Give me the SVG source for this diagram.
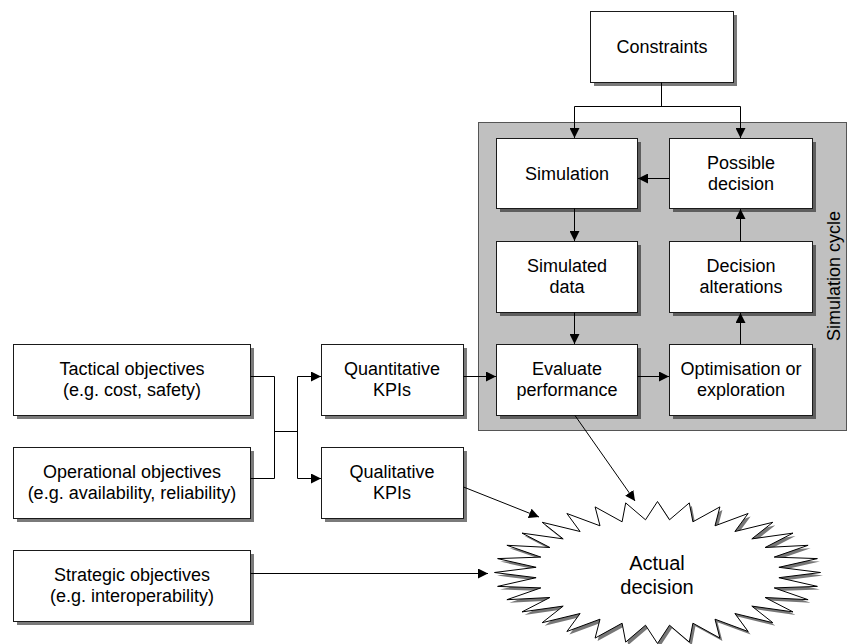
<svg xmlns="http://www.w3.org/2000/svg" width="849" height="644" viewBox="0 0 849 644">
<defs>
<marker id="arr" viewBox="0 0 10 10" refX="10" refY="5" markerWidth="10" markerHeight="10" markerUnits="userSpaceOnUse" orient="auto">
<path d="M0,0 L10,5 L0,10 Z" fill="#000"/>
</marker>
</defs>
<style>
.box{fill:#fff;stroke:#1a1a1a;stroke-width:1}
.sh{fill:#7a7a7a}
.shp{fill:#5e5e5e}
.t{font-family:"Liberation Sans",Arial,sans-serif;font-size:18px;fill:#000;text-anchor:middle}
.c{fill:none;stroke:#000;stroke-width:1}
.a{marker-end:url(#arr)}
</style>
<rect width="849" height="644" fill="#fff"/>

<g id="panel">
<rect x="478.5" y="122.5" width="368" height="308" fill="#c0c0c0" stroke="#555" stroke-width="1"/>
<text class="t" transform="translate(840,276) rotate(-90)">Simulation cycle</text>
</g>

<g id="constraints">
<rect class="sh" x="594" y="15" width="143" height="71"/>
<rect class="box" x="590.5" y="11.5" width="143" height="71"/>
<text class="t" x="662" y="53">Constraints</text>
</g>

<g id="simulation">
<rect class="shp" x="500" y="142" width="141" height="70"/>
<rect class="box" x="496.5" y="138.5" width="141" height="70"/>
<text class="t" x="567" y="180">Simulation</text>
</g>

<g id="possible-decision">
<rect class="shp" x="673" y="142" width="143" height="70"/>
<rect class="box" x="669.5" y="138.5" width="143" height="70"/>
<text class="t" x="741" y="169">Possible</text>
<text class="t" x="741" y="190">decision</text>
</g>

<g id="simulated-data">
<rect class="shp" x="500" y="245" width="141" height="71"/>
<rect class="box" x="496.5" y="241.5" width="141" height="71"/>
<text class="t" x="567" y="272">Simulated</text>
<text class="t" x="567" y="293">data</text>
</g>

<g id="decision-alterations">
<rect class="shp" x="673" y="245" width="143" height="71"/>
<rect class="box" x="669.5" y="241.5" width="143" height="71"/>
<text class="t" x="741" y="272">Decision</text>
<text class="t" x="741" y="293">alterations</text>
</g>

<g id="evaluate-performance">
<rect class="shp" x="500" y="348" width="141" height="71"/>
<rect class="box" x="496.5" y="344.5" width="141" height="71"/>
<text class="t" x="567" y="375">Evaluate</text>
<text class="t" x="567" y="396">performance</text>
</g>

<g id="optimisation">
<rect class="shp" x="673" y="348" width="143" height="71"/>
<rect class="box" x="669.5" y="344.5" width="143" height="71"/>
<text class="t" x="741" y="375">Optimisation or</text>
<text class="t" x="741" y="396">exploration</text>
</g>

<g id="tactical">
<rect class="sh" x="17" y="348" width="237" height="71"/>
<rect class="box" x="13.5" y="344.5" width="237" height="71"/>
<text class="t" x="132" y="375">Tactical objectives</text>
<text class="t" x="132" y="396">(e.g. cost, safety)</text>
</g>

<g id="operational">
<rect class="sh" x="17" y="451" width="237" height="71"/>
<rect class="box" x="13.5" y="447.5" width="237" height="71"/>
<text class="t" x="132" y="478">Operational objectives</text>
<text class="t" x="132" y="499">(e.g. availability, reliability)</text>
</g>

<g id="strategic">
<rect class="sh" x="17" y="554" width="237" height="71"/>
<rect class="box" x="13.5" y="550.5" width="237" height="71"/>
<text class="t" x="132" y="581">Strategic objectives</text>
<text class="t" x="132" y="602">(e.g. interoperability)</text>
</g>

<g id="quantitative">
<rect class="sh" x="325" y="348" width="142" height="71"/>
<rect class="box" x="321.5" y="344.5" width="142" height="71"/>
<text class="t" x="392" y="375">Quantitative</text>
<text class="t" x="392" y="396">KPIs</text>
</g>

<g id="qualitative">
<rect class="sh" x="325" y="451" width="142" height="71"/>
<rect class="box" x="321.5" y="447.5" width="142" height="71"/>
<text class="t" x="392" y="478">Qualitative</text>
<text class="t" x="392" y="499">KPIs</text>
</g>

<g id="actual-decision">
<polygon transform="translate(2.5,3)" fill="#777" points="820.5,572.5 778.9,577.7 817.4,586.4 774.2,587.9 808.1,599.7 765.1,597.5 793.0,611.9 751.8,606.1 772.8,622.7 734.9,613.5 748.1,631.5 715.0,619.2 719.9,638.1 692.9,623.2 689.3,642.1 669.5,625.2 657.5,643.5 645.5,625.2 625.7,642.1 622.1,623.2 595.1,638.1 600.0,619.2 566.9,631.5 580.1,613.5 542.2,622.7 563.2,606.1 522.0,611.9 549.9,597.5 506.9,599.7 540.8,587.9 497.6,586.4 536.1,577.7 494.5,572.5 536.1,567.3 497.6,558.6 540.8,557.1 506.9,545.3 549.9,547.5 522.0,533.1 563.2,538.9 542.2,522.3 580.1,531.5 566.9,513.5 600.0,525.8 595.1,506.9 622.1,521.8 625.7,502.9 645.5,519.8 657.5,501.5 669.5,519.8 689.3,502.9 692.9,521.8 719.9,506.9 715.0,525.8 748.1,513.5 734.9,531.5 772.8,522.3 751.8,538.9 793.0,533.1 765.1,547.5 808.1,545.3 774.2,557.1 817.4,558.6 778.9,567.3"/>
<polygon fill="#fff" stroke="#000" stroke-width="1" stroke-linejoin="miter" points="820.5,572.5 778.9,577.7 817.4,586.4 774.2,587.9 808.1,599.7 765.1,597.5 793.0,611.9 751.8,606.1 772.8,622.7 734.9,613.5 748.1,631.5 715.0,619.2 719.9,638.1 692.9,623.2 689.3,642.1 669.5,625.2 657.5,643.5 645.5,625.2 625.7,642.1 622.1,623.2 595.1,638.1 600.0,619.2 566.9,631.5 580.1,613.5 542.2,622.7 563.2,606.1 522.0,611.9 549.9,597.5 506.9,599.7 540.8,587.9 497.6,586.4 536.1,577.7 494.5,572.5 536.1,567.3 497.6,558.6 540.8,557.1 506.9,545.3 549.9,547.5 522.0,533.1 563.2,538.9 542.2,522.3 580.1,531.5 566.9,513.5 600.0,525.8 595.1,506.9 622.1,521.8 625.7,502.9 645.5,519.8 657.5,501.5 669.5,519.8 689.3,502.9 692.9,521.8 719.9,506.9 715.0,525.8 748.1,513.5 734.9,531.5 772.8,522.3 751.8,538.9 793.0,533.1 765.1,547.5 808.1,545.3 774.2,557.1 817.4,558.6 778.9,567.3"/>
<text class="t" style="font-size:20px" x="657" y="570">Actual</text>
<text class="t" style="font-size:20px" x="657" y="594">decision</text>
</g>

<g id="connectors">
<path class="c" d="M661.5,82.5 V106.5 M574.5,106.5 H740.5"/>
<path class="c a" d="M574.5,106.5 V138"/>
<path class="c a" d="M740.5,106.5 V138"/>
<path class="c a" d="M574.5,208.5 V241"/>
<path class="c a" d="M574.5,312.5 V344"/>
<path class="c a" d="M740.5,241.5 V209"/>
<path class="c a" d="M740.5,344.5 V313"/>
<path class="c a" d="M669.5,178.5 H638"/>
<path class="c a" d="M637.5,376.5 H669"/>
<path class="c" d="M250.5,376.5 H274.5 V478.5 H250.5 M274.5,431.5 H297.5 M297.5,376.5 V478.5"/>
<path class="c a" d="M297.5,376.5 H321"/>
<path class="c a" d="M297.5,478.5 H321"/>
<path class="c a" d="M463.5,376.5 H496"/>
<path class="c a" d="M463.5,487 L539,517"/>
<path class="c a" d="M250.5,573.5 H488"/>
<path class="c a" d="M575,415.5 L635,501"/>
</g>
</svg>
